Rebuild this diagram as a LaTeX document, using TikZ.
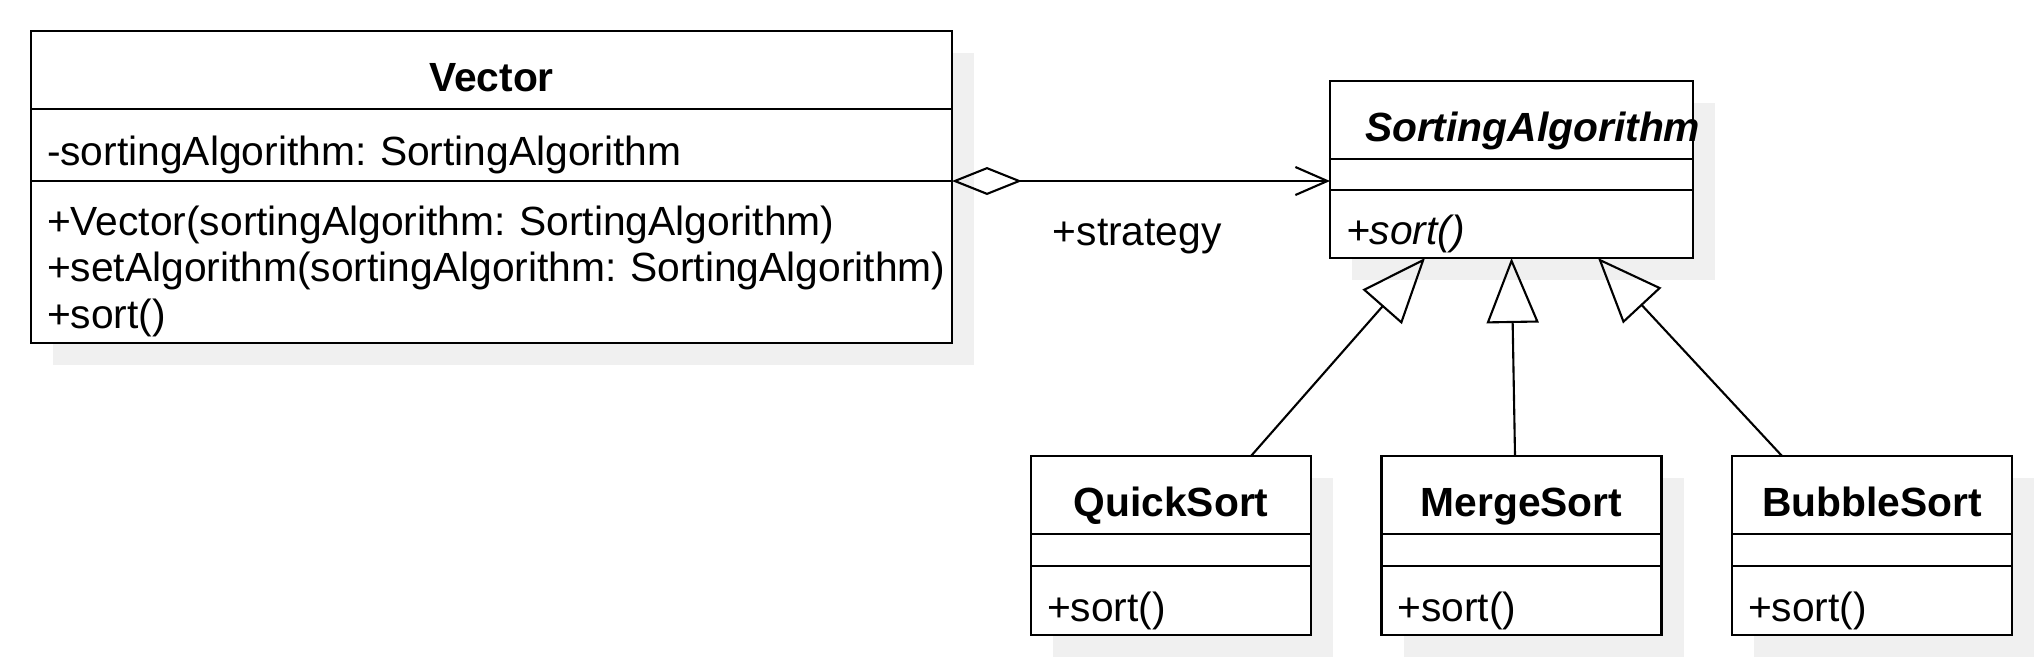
\documentclass[tikz,border=0pt]{standalone}
\usepackage{fontspec}
\setmainfont{Liberation Sans}
\usepackage{tikz}
\usetikzlibrary{arrows.meta}
\usetikzlibrary{positioning}
\usetikzlibrary{backgrounds}
\definecolor{shadowgray}{gray}{0.94}
\frenchspacing
\newcommand{\umlfont}{\fontsize{11.6}{13.25}\selectfont}
\tikzset{box/.style = {draw, fill = white, outer sep = 0, line width = 0.8pt,
                       execute at begin node = {\hyphenpenalty=10000}}}
\tikzset{hdr/.style = {box, minimum height = 0.78cm, text height = 0.43cm, text depth = 0pt,
                       font = \umlfont\bfseries}}
\tikzset{cmp/.style = {box, align = left, inner xsep = 0.16cm, text height = 0.41cm, text depth = 0pt}}
\tikzset{blank/.style = {cmp, inner ysep = 0, text height = 0pt}}
\tikzset{gen/.style = {-{Triangle[open, length = 0.65cm, width = 0.52cm]}, line width = 0.6pt}}
\tikzset{aggr/.style = {{Diamond[open, length = 0.7cm, width = 0.28cm]}-{Straight Barb[length = 0.32cm, width = 0.28cm]},
                        line width = 0.6pt}}

\begin{document}
\begin{tikzpicture}[font = \umlfont]
      \useasboundingbox (0, 0) rectangle (20.42, -6.66);

      % context
      \node [hdr, minimum width = 9.21cm, anchor = north west] (vec) at (0.31, -0.31) {Vector};
      \node [cmp, text width = 8.89cm, minimum height = 0.72cm, below = 0 of vec] (vecattr) {-sortingAlgorithm: SortingAlgorithm};
      \node [cmp, text width = 8.89cm, minimum height = 1.62cm, text height = 0.40cm, text depth = 0.94cm,
             below = 0 of vecattr] (vecops)
            {+Vector(sortingAlgorithm:~SortingAlgorithm)\\+setAlgorithm(sortingAlgorithm:~SortingAlgorithm)\\+sort()};

      % strategy
      \node [hdr, minimum width = 3.63cm, text width = 2.93cm, inner xsep = 0.35cm, align = left,
             font = \umlfont\bfseries\itshape, anchor = north west] (sa) at (13.30, -0.81) {SortingAlgorithm};
      \node [blank, text width = 3.31cm, minimum height = 0.31cm, below = 0 of sa] (saattr) {};
      \node [cmp, text width = 3.31cm, minimum height = 0.68cm, below = 0 of saattr] (saops) {\itshape +sort()};

      % concrete strategies
      \node [hdr, minimum width = 2.80cm, anchor = north west] (quick) at (10.31, -4.56) {QuickSort};
      \node [blank, text width = 2.48cm, minimum height = 0.32cm, below = 0 of quick] (quickattr) {};
      \node [cmp, text width = 2.48cm, minimum height = 0.69cm, below = 0 of quickattr] (quickops) {+sort()};

      \node [hdr, minimum width = 2.80cm, right = 0.705cm of quick] (merge) {MergeSort};
      \node [blank, text width = 2.48cm, minimum height = 0.32cm, below = 0 of merge] (mergeattr) {};
      \node [cmp, text width = 2.48cm, minimum height = 0.69cm, below = 0 of mergeattr] (mergeops) {+sort()};

      \node [hdr, minimum width = 2.80cm, right = 0.705cm of merge] (bubble) {BubbleSort};
      \node [blank, text width = 2.48cm, minimum height = 0.32cm, below = 0 of bubble] (bubbleattr) {};
      \node [cmp, text width = 2.48cm, minimum height = 0.69cm, below = 0 of bubbleattr] (bubbleops) {+sort()};

      \begin{scope}[on background layer]
        \fill [shadowgray] ([shift = {(0.22, -0.22)}] vec.north west) rectangle ([shift = {(0.22, -0.22)}] vecops.south east);
        \fill [shadowgray] ([shift = {(0.22, -0.22)}] sa.north west) rectangle ([shift = {(0.22, -0.22)}] saops.south east);
        \fill [shadowgray] ([shift = {(0.22, -0.22)}] quick.north west) rectangle ([shift = {(0.22, -0.22)}] quickops.south east);
        \fill [shadowgray] ([shift = {(0.22, -0.22)}] merge.north west) rectangle ([shift = {(0.22, -0.22)}] mergeops.south east);
        \fill [shadowgray] ([shift = {(0.22, -0.22)}] bubble.north west) rectangle ([shift = {(0.22, -0.22)}] bubbleops.south east);
      \end{scope}

      \draw [aggr] (vecops.north east) -- (vecops.north east -| sa.west)
            node [pos = 0.49, anchor = base, yshift = -0.64cm] (strat) {+strategy};

      \draw [gen] ([xshift = 0.80cm] quick.north) -- ([xshift = -0.865cm] saops.south);
      \draw [gen] ([xshift = -0.065cm] merge.north) -- (saops.south);
      \draw [gen] ([xshift = -0.90cm] bubble.north) -- ([xshift = 0.865cm] saops.south);

\end{tikzpicture}
\end{document}
